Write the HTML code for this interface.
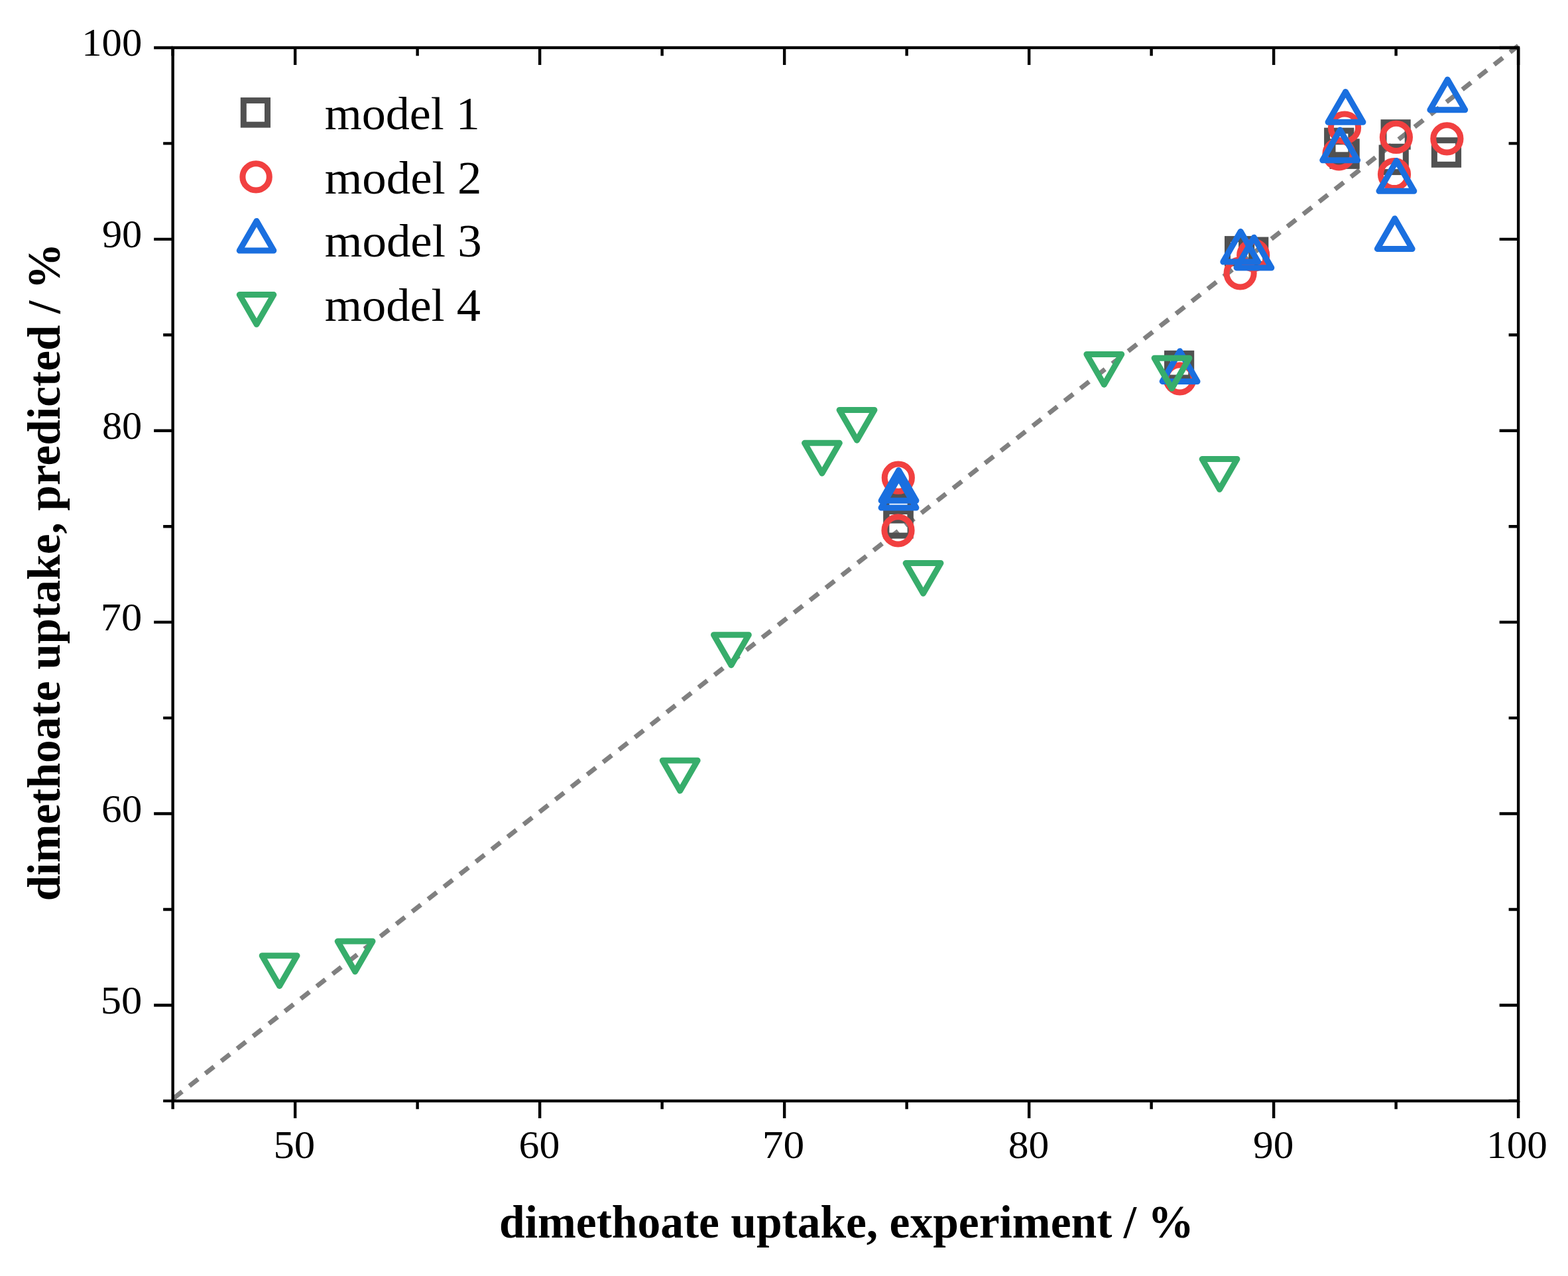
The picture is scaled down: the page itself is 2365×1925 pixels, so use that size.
<!DOCTYPE html><html><head><meta charset="utf-8"><title>dimethoate uptake: predicted vs experiment</title><style>html,body{margin:0;padding:0;background:#fff;}svg{display:block;}text{font-family:"Liberation Serif",serif;fill:#000;}</style></head><body>
<svg width="2365" height="1925" viewBox="0 0 2365 1925">
<rect width="2365" height="1925" fill="#fff"/>
<line x1="260.65" y1="1657.9" x2="2290.1" y2="68.95" stroke="#808080" stroke-width="7" stroke-dasharray="16.6 13.88" stroke-dashoffset="-1.3"/>
<rect x="1336.90" y="748.50" width="36.2" height="36.6" fill="none" stroke="#515151" stroke-width="9.0"/>
<rect x="1336.90" y="771.50" width="36.2" height="36.6" fill="none" stroke="#515151" stroke-width="9.0"/>
<rect x="1760.50" y="533.30" width="36.2" height="36.6" fill="none" stroke="#515151" stroke-width="9.0"/>
<rect x="1851.50" y="360.60" width="36.2" height="36.6" fill="none" stroke="#515151" stroke-width="9.0"/>
<rect x="1872.60" y="362.00" width="36.2" height="36.6" fill="none" stroke="#515151" stroke-width="9.0"/>
<rect x="2001.60" y="197.20" width="36.2" height="36.6" fill="none" stroke="#515151" stroke-width="9.0"/>
<rect x="2010.00" y="213.80" width="36.2" height="36.6" fill="none" stroke="#515151" stroke-width="9.0"/>
<rect x="2087.00" y="184.70" width="36.2" height="36.6" fill="none" stroke="#515151" stroke-width="9.0"/>
<rect x="2084.10" y="223.00" width="36.2" height="36.6" fill="none" stroke="#515151" stroke-width="9.0"/>
<rect x="2163.40" y="211.70" width="36.2" height="36.6" fill="none" stroke="#515151" stroke-width="9.0"/>
<circle cx="1354.80" cy="720.70" r="20.6" fill="none" stroke="#F14040" stroke-width="9.0"/>
<circle cx="1354.50" cy="800.30" r="20.6" fill="none" stroke="#F14040" stroke-width="9.0"/>
<circle cx="1779.50" cy="571.30" r="20.6" fill="none" stroke="#F14040" stroke-width="9.0"/>
<circle cx="1870.60" cy="412.30" r="20.6" fill="none" stroke="#F14040" stroke-width="9.0"/>
<circle cx="1890.20" cy="385.00" r="20.6" fill="none" stroke="#F14040" stroke-width="9.0"/>
<circle cx="2019.50" cy="232.30" r="20.6" fill="none" stroke="#F14040" stroke-width="9.0"/>
<circle cx="2028.00" cy="192.50" r="20.6" fill="none" stroke="#F14040" stroke-width="9.0"/>
<circle cx="2105.90" cy="206.90" r="20.6" fill="none" stroke="#F14040" stroke-width="9.0"/>
<circle cx="2103.00" cy="263.00" r="20.6" fill="none" stroke="#F14040" stroke-width="9.0"/>
<circle cx="2182.40" cy="209.30" r="20.6" fill="none" stroke="#F14040" stroke-width="9.0"/>
<polygon points="1355.50,709.50 1329.09,755.25 1381.91,755.25" fill="none" stroke="#1A6FDF" stroke-width="9.0" stroke-linejoin="round"/>
<polygon points="1355.50,720.30 1329.09,766.05 1381.91,766.05" fill="none" stroke="#1A6FDF" stroke-width="9.0" stroke-linejoin="round"/>
<polygon points="1779.60,529.70 1753.19,575.45 1806.01,575.45" fill="none" stroke="#1A6FDF" stroke-width="9.0" stroke-linejoin="round"/>
<polygon points="1871.20,349.30 1844.79,395.05 1897.61,395.05" fill="none" stroke="#1A6FDF" stroke-width="9.0" stroke-linejoin="round"/>
<polygon points="1891.40,358.20 1864.99,403.95 1917.81,403.95" fill="none" stroke="#1A6FDF" stroke-width="9.0" stroke-linejoin="round"/>
<polygon points="2021.20,196.10 1994.79,241.85 2047.61,241.85" fill="none" stroke="#1A6FDF" stroke-width="9.0" stroke-linejoin="round"/>
<polygon points="2029.50,138.50 2003.09,184.25 2055.91,184.25" fill="none" stroke="#1A6FDF" stroke-width="9.0" stroke-linejoin="round"/>
<polygon points="2106.40,242.50 2079.99,288.25 2132.81,288.25" fill="none" stroke="#1A6FDF" stroke-width="9.0" stroke-linejoin="round"/>
<polygon points="2103.70,329.70 2077.29,375.45 2130.11,375.45" fill="none" stroke="#1A6FDF" stroke-width="9.0" stroke-linejoin="round"/>
<polygon points="2183.30,120.00 2156.89,165.75 2209.71,165.75" fill="none" stroke="#1A6FDF" stroke-width="9.0" stroke-linejoin="round"/>
<polygon points="421.60,1487.40 395.19,1441.65 448.01,1441.65" fill="none" stroke="#37AD6B" stroke-width="9.0" stroke-linejoin="round"/>
<polygon points="535.60,1465.80 509.19,1420.05 562.01,1420.05" fill="none" stroke="#37AD6B" stroke-width="9.0" stroke-linejoin="round"/>
<polygon points="1025.70,1193.00 999.29,1147.25 1052.11,1147.25" fill="none" stroke="#37AD6B" stroke-width="9.0" stroke-linejoin="round"/>
<polygon points="1102.90,1003.40 1076.49,957.65 1129.31,957.65" fill="none" stroke="#37AD6B" stroke-width="9.0" stroke-linejoin="round"/>
<polygon points="1239.90,714.10 1213.49,668.35 1266.31,668.35" fill="none" stroke="#37AD6B" stroke-width="9.0" stroke-linejoin="round"/>
<polygon points="1292.50,664.20 1266.09,618.45 1318.91,618.45" fill="none" stroke="#37AD6B" stroke-width="9.0" stroke-linejoin="round"/>
<polygon points="1392.50,895.30 1366.09,849.55 1418.91,849.55" fill="none" stroke="#37AD6B" stroke-width="9.0" stroke-linejoin="round"/>
<polygon points="1665.30,580.20 1638.89,534.45 1691.71,534.45" fill="none" stroke="#37AD6B" stroke-width="9.0" stroke-linejoin="round"/>
<polygon points="1767.50,586.00 1741.09,540.25 1793.91,540.25" fill="none" stroke="#37AD6B" stroke-width="9.0" stroke-linejoin="round"/>
<polygon points="1839.50,738.30 1813.09,692.55 1865.91,692.55" fill="none" stroke="#37AD6B" stroke-width="9.0" stroke-linejoin="round"/>
<rect x="260.65" y="71.95" width="2029.45" height="1588.95" fill="none" stroke="#000" stroke-width="4.4"/>
<path d="M246.15 1660.90H260.65M2275.60 1660.90H2290.1M260.65 1660.9V1673.20M260.65 71.95V84.25M232.15 1516.45H260.65M2261.60 1516.45H2290.1M445.15 1660.9V1686.90M445.15 71.95V97.95M246.15 1372.00H260.65M2275.60 1372.00H2290.1M629.64 1660.9V1673.20M629.64 71.95V84.25M232.15 1227.55H260.65M2261.60 1227.55H2290.1M814.14 1660.9V1686.90M814.14 71.95V97.95M246.15 1083.10H260.65M2275.60 1083.10H2290.1M998.63 1660.9V1673.20M998.63 71.95V84.25M232.15 938.65H260.65M2261.60 938.65H2290.1M1183.13 1660.9V1686.90M1183.13 71.95V97.95M246.15 794.20H260.65M2275.60 794.20H2290.1M1367.62 1660.9V1673.20M1367.62 71.95V84.25M232.15 649.75H260.65M2261.60 649.75H2290.1M1552.12 1660.9V1686.90M1552.12 71.95V97.95M246.15 505.30H260.65M2275.60 505.30H2290.1M1736.61 1660.9V1673.20M1736.61 71.95V84.25M232.15 360.85H260.65M2261.60 360.85H2290.1M1921.11 1660.9V1686.90M1921.11 71.95V97.95M246.15 216.40H260.65M2275.60 216.40H2290.1M2105.60 1660.9V1673.20M2105.60 71.95V84.25M232.15 71.95H260.65M2261.60 71.95H2290.1M2290.10 1660.9V1686.90M2290.10 71.95V97.95" stroke="#000" stroke-width="4.4" fill="none"/>
<text transform="translate(151.83 1528.75) scale(1.0525 1)" font-size="59.4">50</text>
<text transform="translate(153.10 1239.85) scale(1.0302 1)" font-size="59.4">60</text>
<text transform="translate(151.86 950.95) scale(1.0519 1)" font-size="59.4">70</text>
<text transform="translate(153.94 662.05) scale(1.0156 1)" font-size="59.4">80</text>
<text transform="translate(153.94 373.15) scale(1.0155 1)" font-size="59.4">90</text>
<text transform="translate(123.29 84.25) scale(1.0211 1)" font-size="59.4">100</text>
<text transform="translate(412.40 1747.41) scale(1.0599 1)" font-size="59.4">50</text>
<text transform="translate(782.46 1747.41) scale(1.0412 1)" font-size="59.4">60</text>
<text transform="translate(1149.87 1747.41) scale(1.0688 1)" font-size="59.4">70</text>
<text transform="translate(1520.76 1747.41) scale(1.0356 1)" font-size="59.4">80</text>
<text transform="translate(1890.07 1747.41) scale(1.0300 1)" font-size="59.4">90</text>
<text transform="translate(2241.99 1747.41) scale(1.0321 1)" font-size="59.4">100</text>
<rect x="367.30" y="151.55" width="36.2" height="36.6" fill="none" stroke="#515151" stroke-width="9.0"/>
<circle cx="386.10" cy="266.90" r="20.2" fill="none" stroke="#F14040" stroke-width="9.0"/>
<polygon points="387.00,333.40 361.19,378.10 412.81,378.10" fill="none" stroke="#1A6FDF" stroke-width="9.0" stroke-linejoin="round"/>
<polygon points="387.00,489.30 361.19,444.60 412.81,444.60" fill="none" stroke="#37AD6B" stroke-width="9.0" stroke-linejoin="round"/>
<text transform="translate(489.72 194.70) scale(1.0438 1)" font-size="69.04">model 1</text>
<text transform="translate(489.70 291.50) scale(1.0549 1)" font-size="69.04">model 2</text>
<text transform="translate(489.70 387.20) scale(1.0563 1)" font-size="69.04">model 3</text>
<text transform="translate(489.71 483.90) scale(1.0485 1)" font-size="69.04">model 4</text>
<text transform="translate(753.02 1867.10) scale(1.0042 1)" font-size="69.2" font-weight="bold">dimethoate uptake, experiment / %</text>
<text transform="translate(90.20 1359.28) rotate(-90) scale(1.0040 1)" font-size="69.2" font-weight="bold">dimethoate uptake, predicted / %</text>
</svg></body></html>
